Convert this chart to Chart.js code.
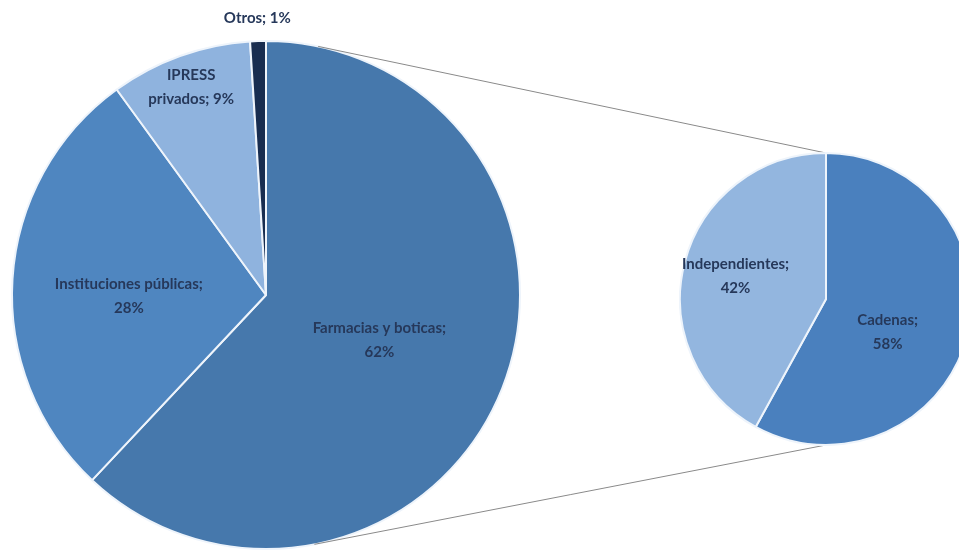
<!DOCTYPE html>
<html lang="es">
  <head>
    <meta charset="utf-8">
    <title>Pie of pie</title>
    <script src="https://cdn.jsdelivr.net/npm/chart.js"></script>
    <style>
      body { margin: 0; background: #fff; }
      #wrap { position: relative; width: 959px; height: 554px; overflow: hidden; }
      #bigBox { position: absolute; left: 0; top: 0; width: 959px; height: 554px; }
      #smallBox { position: absolute; left: 679px; top: 152px; width: 294px; height: 294px; }
    </style>
  </head>
  <body>
    <div id="wrap">
      <div id="bigBox"><canvas id="bigChart"></canvas></div>
      <div id="smallBox"><canvas id="smallChart"></canvas></div>
    </div>

  <script>
    // main pie
    const mainLabels = [['Farmacias y boticas;', '62%'], ['Instituciones públicas;', '28%'], ['IPRESS', 'privados; 9%'], ['Otros; 1%']];
    const mainValues = [62, 28, 9, 1];
    // breakdown of "Farmacias y boticas"
    const subLabels = [['Cadenas;', '58%'], ['Independientes;', '42%']];
    const subValues = [58, 42];

    const textColor = '#26385a';
    const labelFont = 'bold 15px Lato, "Open Sans", sans-serif';

    // draws the slice labels at a fraction of the radius along the mid angle (+ small turn)
    const sliceLabels = {
        id: 'sliceLabels',
        afterDatasetsDraw(chart, args, opts) {
            const ctx = chart.ctx;
            const arcs = chart.getDatasetMeta(0).data;
            const labels = chart.data.labels;
            ctx.save();
            ctx.font = labelFont;
            ctx.fillStyle = textColor;
            ctx.textAlign = 'center';
            ctx.textBaseline = 'middle';
            arcs.forEach((arc, i) => {
                const mid = (arc.startAngle + arc.endAngle) / 2 + (opts.turn[i] || 0) * Math.PI / 180;
                const r = arc.outerRadius * opts.pos[i];
                const x = arc.x + Math.cos(mid) * r;
                const y = arc.y + Math.sin(mid) * r;
                const lines = labels[i];
                const lh = 24;
                lines.forEach((t, j) => {
                    ctx.fillText(t, x, y + (j - (lines.length - 1) / 2) * lh);
                });
            });
            ctx.restore();
        }
    };

    const smallChart = new Chart(document.getElementById('smallChart'), {
        type: 'pie',
        data: {
            labels: subLabels,
            datasets: [{
                data: subValues,
                backgroundColor: ['rgb(74,128,190)', 'rgb(147,182,223)'],
                borderColor: '#eef4fb',
                borderWidth: 2
            }]
        },
        options: {
            responsive: true,
            maintainAspectRatio: false,
            animation: false,
            layout: { padding: 0 },
            plugins: {
                legend: { display: false },
                tooltip: { enabled: false },
                sliceLabels: { pos: [0.48, 0.64], turn: [14, 0] }
            }
        },
        plugins: [sliceLabels]
    });

    // tangent lines from top/bottom of the small pie to the big pie
    const connectors = {
        id: 'connectors',
        afterDraw(chart) {
            const big = chart.getDatasetMeta(0).data[0];
            const sm = smallChart.getDatasetMeta(0).data[0];
            const bigRect = chart.canvas.getBoundingClientRect();
            const smRect = smallChart.canvas.getBoundingClientRect();
            const sx = sm.x + smRect.left - bigRect.left;
            const sy = sm.y + smRect.top - bigRect.top;
            const ctx = chart.ctx;
            ctx.save();
            ctx.strokeStyle = '#8a8a8a';
            ctx.lineWidth = 1;
            [-1, 1].forEach(side => {
                const px = sx;
                const py = sy + side * sm.outerRadius;
                const dx = px - big.x, dy = py - big.y;
                const L = Math.hypot(dx, dy);
                const phi = Math.atan2(dy, dx);
                const a = phi + side * Math.acos(big.outerRadius / L);
                ctx.beginPath();
                ctx.moveTo(big.x + Math.cos(a) * big.outerRadius, big.y + Math.sin(a) * big.outerRadius);
                ctx.lineTo(px, py);
                ctx.stroke();
            });
            ctx.restore();
        }
    };

    const bigChart = new Chart(document.getElementById('bigChart'), {
        type: 'pie',
        data: {
            labels: mainLabels,
            datasets: [{
                data: mainValues,
                backgroundColor: ['rgb(70,120,172)', 'rgb(79,134,192)', 'rgb(143,179,222)', 'rgb(24,45,80)'],
                borderColor: '#eef4fb',
                borderWidth: 2
            }]
        },
        options: {
            responsive: true,
            maintainAspectRatio: false,
            animation: false,
            layout: { padding: { left: 11, top: 40, right: 438, bottom: 4 } },
            plugins: {
                legend: { display: false },
                tooltip: { enabled: false },
                sliceLabels: { pos: [0.48, 0.54, 0.87, 1.09], turn: [0, -4, 0, 0] }
            }
        },
        plugins: [sliceLabels, connectors]
    });
  </script>
  </body>
</html>
